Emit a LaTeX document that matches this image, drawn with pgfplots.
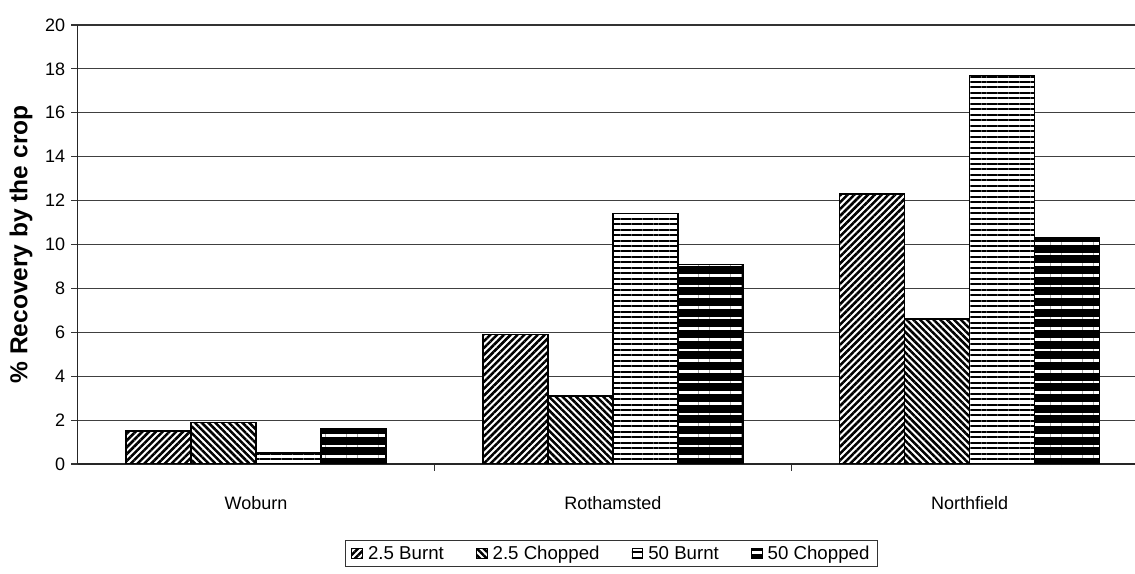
\documentclass[border=0pt]{standalone}
\usepackage{pgfplots}
\pgfplotsset{compat=1.18}
\usetikzlibrary{patterns.meta}
\usepackage{fontspec}
\setmainfont{Liberation Sans}
\begin{document}
\begin{tikzpicture}
\useasboundingbox (0,0) rectangle (851.25pt,430.5pt);
\begin{axis}[
  at={(58.3pt,82.5pt)}, anchor=south west,
  scale only axis, width=793pt, height=329.25pt,
  ybar=0pt, bar width=48.75pt,
  xmin=-0.5, xmax=2.464, ymin=0, ymax=20,
  axis lines=left, axis line style={-, line width=0.8pt, black!85},
  ytick={0,2,...,20}, ymajorgrids, grid style={line width=0.7pt, black!75},
  extra y ticks={20}, extra y tick labels={},
  extra y tick style={grid style={line width=1.4pt, black!80}, major tick length=0pt},
  tick align=outside, major tick length=5pt,
  tick style={black!80, line width=0.8pt},
  xtick={0.5,1.5}, xticklabels={},
  extra x ticks={0,1,2}, extra x tick labels={Woburn,Rothamsted,Northfield},
  extra x tick style={major tick length=0pt, grid=none, xticklabel style={yshift=-21pt}},
  /pgf/number format/assume math mode=true,
  ticklabel style={font=\fontsize{13.5}{16}\selectfont},
  yticklabel style={xshift=-1pt},
  every axis y label/.style={at={(axis description cs:-0.0536,0.5)}, rotate=90, anchor=center},
  ylabel={\fontsize{18.4}{21}\selectfont\bfseries \% Recovery by the crop},
  legend columns=4,
  legend style={at={(axis description cs:0.505,-0.173)}, anchor=north, draw=black!80, line width=0.7pt,
    font=\fontsize{14}{16}\selectfont,
    /tikz/every even column/.append style={column sep=22pt},
    /tikz/every odd column/.append style={column sep=2pt},
    inner xsep=4pt, inner ysep=2pt},
  every axis plot post/.append style={legend image code/.code={\draw[##1, line width=0.6pt] (0pt,-4pt) rectangle (8pt,4pt);}},
]
\addplot[draw=black, line width=1.1pt, fill=white, postaction={pattern={Lines[angle=45,distance=3.6pt,line width=1.9pt]}, pattern color=black}]
  coordinates {(0,1.5) (1,5.9) (2,12.3)};
\addplot[draw=black, line width=1.1pt, fill=white, postaction={pattern={Lines[angle=-45,distance=3.6pt,line width=1.9pt]}, pattern color=black}]
  coordinates {(0,1.9) (1,3.1) (2,6.6)};
\addplot[draw=black, line width=1.1pt, fill=white, postaction={pattern={Lines[angle=0,distance=4.1pt,line width=1.5pt]}, pattern color=black}]
  coordinates {(0,0.5) (1,11.4) (2,17.7)};
\addplot[draw=black, line width=1.1pt, fill=black, postaction={pattern={Lines[angle=0,distance=8pt,line width=2.2pt]}, pattern color=white}]
  coordinates {(0,1.6) (1,9.1) (2,10.3)};
\legend{2.5 Burnt, 2.5 Chopped, 50 Burnt, 50 Chopped}
\end{axis}
\end{tikzpicture}
\end{document}
